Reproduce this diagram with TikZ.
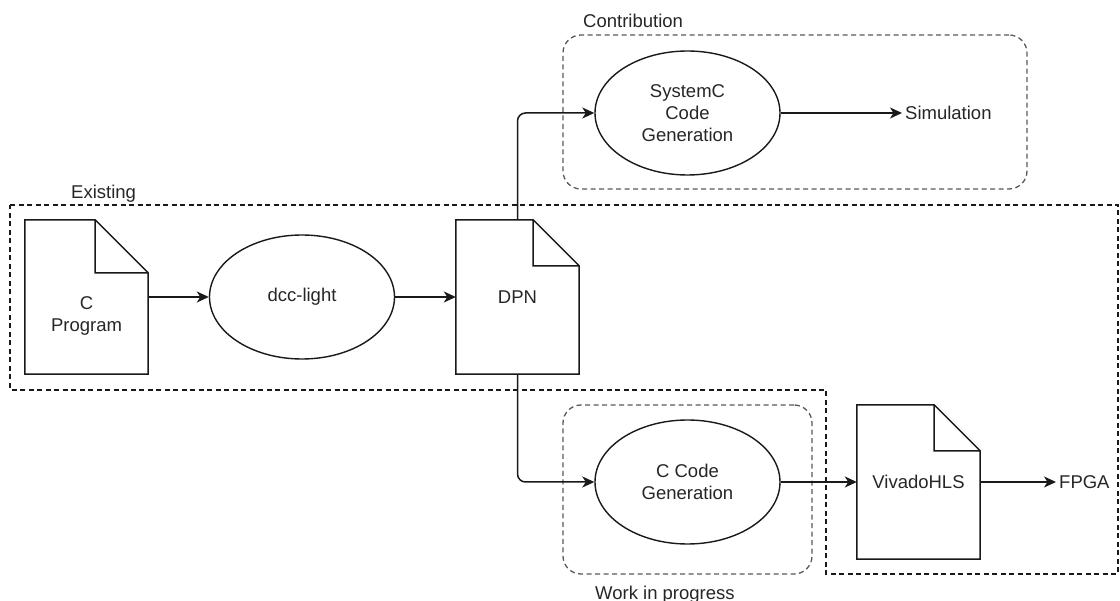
\documentclass[tikz,border=0pt]{standalone}
\usepackage{fontspec}
\setmainfont{Liberation Sans}
\usetikzlibrary{shapes.geometric,arrows.meta}

\begin{document}
\begin{tikzpicture}[x=1pt,y=-1pt,
  font=\fontsize{18.5}{22}\selectfont,
  every node/.style={text=black!85},
  doc/.style={rectangle, minimum width=123pt, minimum height=154pt, inner sep=0pt, align=center},
  proc/.style={ellipse, draw=black!90, line width=1.4pt, minimum width=185pt, minimum height=124pt, inner sep=0pt, align=center},
  flow/.style={draw=black!90, line width=1.5pt, -{Stealth[length=12pt,width=11pt,inset=3.5pt]}},
  docline/.style={draw=black!90, line width=1.5pt, line join=miter},
  groupbox/.style={rectangle, draw=black!65, line width=1.3pt, dash pattern=on 5pt off 3.5pt, rounded corners=18pt, inner sep=0pt},
  arealine/.style={draw=black!90, line width=1.4pt, dash pattern=on 5pt off 3.5pt},
  caption/.style={anchor=base west, inner sep=0pt},
  term/.style={anchor=west, inner sep=3pt}]

\useasboundingbox (0,0) rectangle (1120,601);

% group frames
\node[groupbox, minimum width=464pt, minimum height=154pt] (contrib) at (795,112) {};
\node[groupbox, minimum width=249pt, minimum height=169pt] (wip) at (687.5,489.5) {};
\draw[arealine] (10,205) -- (1118,205) -- (1118,574) -- (826,574) -- (826,390) -- (10,390) -- cycle;

\node[caption] (contribcap) at (583,28) {Contribution};
\node[caption] (existcap) at (71,199) {Existing};
\node[caption] (wipcap) at (595,599) {Work in progress};

% documents
\node[doc, label={[align=center, yshift=-19pt]center:{C\\Program}}] (cprog) at (86.5,297) {};
\node[doc] (dpn) at (517.5,297) {DPN};
\node[doc] (hls) at (918.5,482) {VivadoHLS};
\foreach \n/\f in {cprog/53, dpn/46, hls/46}
  \draw[docline] (\n.south west) -- (\n.north west) -- ([xshift=-\f pt]\n.north east)
    -- ([yshift=-\f pt]\n.north east) -- (\n.south east) -- cycle
    ([xshift=-\f pt]\n.north east) |- ([yshift=-\f pt]\n.north east);

% processes
\node[proc] (dcc) at (302,297) {dcc-light};
\node[proc] (sysc) at (687.5,113) {SystemC\\Code\\Generation};
\node[proc] (ccg) at (687.5,482) {C Code\\Generation};

% end points
\node[term] (sim) at (902,113) {Simulation};
\node[term] (fpga) at (1056,482) {FPGA};

% connectors
\draw[flow] (cprog.east) -- (cprog.east -| dcc.west);
\draw[flow] (dcc.east) -- (dcc.east -| dpn.west);
\draw[flow, rounded corners=8pt] (dpn.north) |- (sysc.west);
\draw[flow] (sysc.east) -- (sysc.east -| sim.west);
\draw[flow, rounded corners=8pt] (dpn.south) |- (ccg.west);
\draw[flow] (ccg.east) -- (ccg.east -| hls.west);
\draw[flow] (hls.east) -- (hls.east -| fpga.west);
\end{tikzpicture}
\end{document}
